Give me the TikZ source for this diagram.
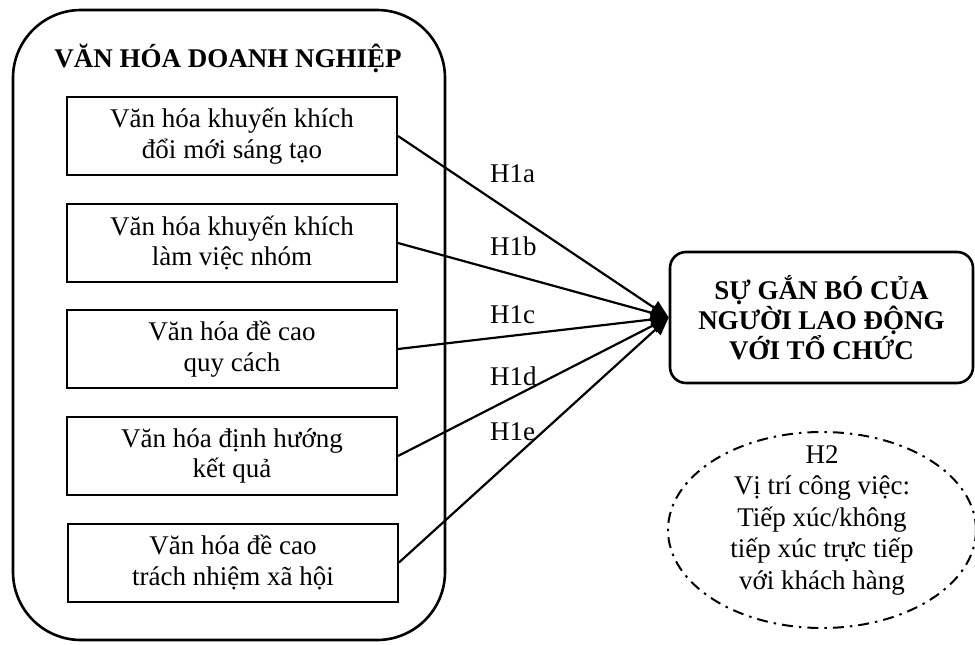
\documentclass[tikz,border=0pt]{standalone}
\usepackage{fontspec}
\setmainfont{Liberation Serif}
\usetikzlibrary{arrows.meta,shapes.geometric}
\begin{document}
\begin{tikzpicture}[x=1pt,y=-1pt,
 txt/.style={font=\fontsize{27}{30.5}\selectfont},
 inner/.style={draw,line width=2pt,minimum width=330pt,minimum height=78pt,align=center,inner sep=0pt,txt},
 lab/.style={anchor=base west,inner sep=0pt,txt},
 link/.style={line width=2.2pt,-{Triangle[length=18pt,width=15pt]}}]
\useasboundingbox (0,0) rectangle (975,645);
\node[draw,line width=2.6pt,rounded corners=68pt,minimum width=432pt,minimum height=630pt,inner sep=0pt] (outer) at (229,325) {};
\node[inner sep=0pt,anchor=base,font=\bfseries\fontsize{27}{30.5}\selectfont] (title) at (228,67) {VĂN HÓA DOANH NGHIỆP};
\node[inner] (b1) at (232,136) {Văn hóa khuyến khích\\đổi mới sáng tạo};
\node[inner] (b2) at (232,243) {Văn hóa khuyến khích\\làm việc nhóm};
\node[inner] (b3) at (232,349) {Văn hóa đề cao\\quy cách};
\node[inner] (b4) at (232,456) {Văn hóa định hướng\\kết quả};
\node[inner] (b5) at (233,562.5) {Văn hóa đề cao\\trách nhiệm xã hội};
\node[draw,line width=2.6pt,rounded corners=16pt,minimum width=303pt,minimum height=131pt,align=center,inner sep=0pt,font=\bfseries\fontsize{27}{30}\selectfont] (r) at (821.5,317.5) {SỰ GẮN BÓ CỦA\\NGƯỜI LAO ĐỘNG\\VỚI TỔ CHỨC};
\draw[link] (b1.east) -- (r.west);
\draw[link] (b2.east) -- (r.west);
\draw[link] (b3.east) -- (r.west);
\draw[link] (b4.east) -- (r.west);
\draw[link] (b5.east) -- (r.west);
\node[lab] (h1a) at (490,182) {H1a};
\node[lab] (h1b) at (490,255) {H1b};
\node[lab] (h1c) at (490,323) {H1c};
\node[lab] (h1d) at (490,385) {H1d};
\node[lab] (h1e) at (490,440) {H1e};
\node[ellipse,draw,line width=2pt,dash pattern=on 11pt off 6pt on 2.5pt off 6pt,minimum width=308pt,minimum height=196pt,inner sep=0pt] (e) at (822,530) {};
\node[align=center,inner sep=0pt,font=\fontsize{27}{31.5}\selectfont] (et) at (822,520) {H2\\Vị trí công việc:\\Tiếp xúc/không\\tiếp xúc trực tiếp\\với khách hàng};
\end{tikzpicture}
\end{document}
